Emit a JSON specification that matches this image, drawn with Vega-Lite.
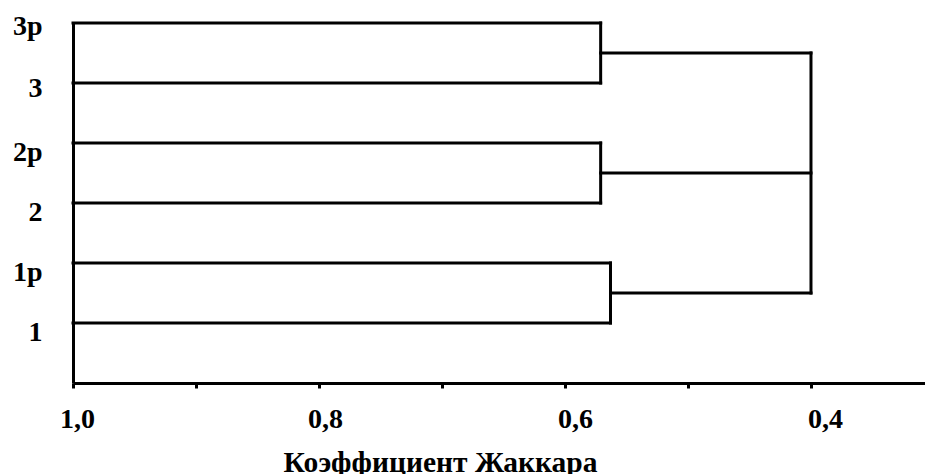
{
  "$schema": "https://vega.github.io/schema/vega-lite/v6.json",
  "width": 852,
  "height": 360,
  "autosize": {"type": "none"},
  "padding": {"left": 73, "top": 23, "right": 0, "bottom": 91},
  "background": "white",
  "config": {
    "view": {"stroke": null},
    "font": "Liberation Serif"
  },
  "data": {
    "values": [
      {"xa": 1.0, "xb": 0.571, "ya": 6, "yb": 6},
      {"xa": 1.0, "xb": 0.571, "ya": 5, "yb": 5},
      {"xa": 1.0, "xb": 0.571, "ya": 4, "yb": 4},
      {"xa": 1.0, "xb": 0.571, "ya": 3, "yb": 3},
      {"xa": 1.0, "xb": 0.563, "ya": 2, "yb": 2},
      {"xa": 1.0, "xb": 0.563, "ya": 1, "yb": 1},
      {"xa": 0.571, "xb": 0.571, "ya": 5, "yb": 6},
      {"xa": 0.571, "xb": 0.571, "ya": 3, "yb": 4},
      {"xa": 0.563, "xb": 0.563, "ya": 1, "yb": 2},
      {"xa": 0.571, "xb": 0.4, "ya": 5.5, "yb": 5.5},
      {"xa": 0.571, "xb": 0.4, "ya": 3.5, "yb": 3.5},
      {"xa": 0.563, "xb": 0.4, "ya": 1.5, "yb": 1.5},
      {"xa": 0.4, "xb": 0.4, "ya": 1.5, "yb": 5.5}
    ]
  },
  "mark": {"type": "rule", "color": "black", "strokeWidth": 3, "strokeCap": "square"},
  "encoding": {
    "x": {
      "field": "xa",
      "type": "quantitative",
      "scale": {"domain": [0.3073, 1], "reverse": true, "nice": false, "zero": false},
      "axis": {
        "values": [1, 0.9, 0.8, 0.7, 0.6, 0.5, 0.4],
        "labelExpr": "round(datum.value*10) % 2 == 0 ? replace(format(datum.value, '.1f'), '.', ',') : ''",
        "grid": false,
        "domainColor": "black",
        "domainWidth": 3,
        "tickColor": "black",
        "tickWidth": 3,
        "tickSize": 5,
        "labelFont": "Liberation Serif",
        "labelFontWeight": "bold",
        "labelFontSize": 28,
        "labelColor": "black",
        "labelPadding": 17,
        "labelOffset": {
          "condition": [
            {"test": "datum.value < 0.45", "value": 14},
            {"test": "datum.value < 0.65", "value": 10},
            {"test": "datum.value < 0.85", "value": 6}
          ],
          "value": 4
        },
        "labelFlush": false,
        "labelOverlap": false,
        "title": "Коэффициент Жаккара",
        "titleFont": "Liberation Serif",
        "titleFontWeight": "bold",
        "titleFontSize": 29.5,
        "titleColor": "black",
        "titleX": 367,
        "titleY": 88,
        "titleAlign": "center",
        "titleBaseline": "alphabetic"
      }
    },
    "x2": {"field": "xb"},
    "y": {
      "field": "ya",
      "type": "quantitative",
      "scale": {"domain": [0, 6], "nice": false, "zero": false},
      "axis": {
        "values": [1, 2, 3, 4, 5, 6],
        "labelExpr": "['', '1', '1p', '2', '2p', '3', '3p'][datum.value]",
        "grid": false,
        "ticks": false,
        "domainColor": "black",
        "domainWidth": 3,
        "labelFont": "Liberation Serif",
        "labelFontWeight": "bold",
        "labelFontSize": 28,
        "labelColor": "black",
        "labelPadding": 31,
        "labelBaseline": "middle",
        "labelOffset": {
          "condition": [
            {"test": "datum.value >= 5.5", "value": 3},
            {"test": "datum.value >= 4.5", "value": 5}
          ],
          "value": 9
        },
        "labelFlush": false,
        "labelOverlap": false,
        "title": null
      }
    },
    "y2": {"field": "yb"}
  }
}
